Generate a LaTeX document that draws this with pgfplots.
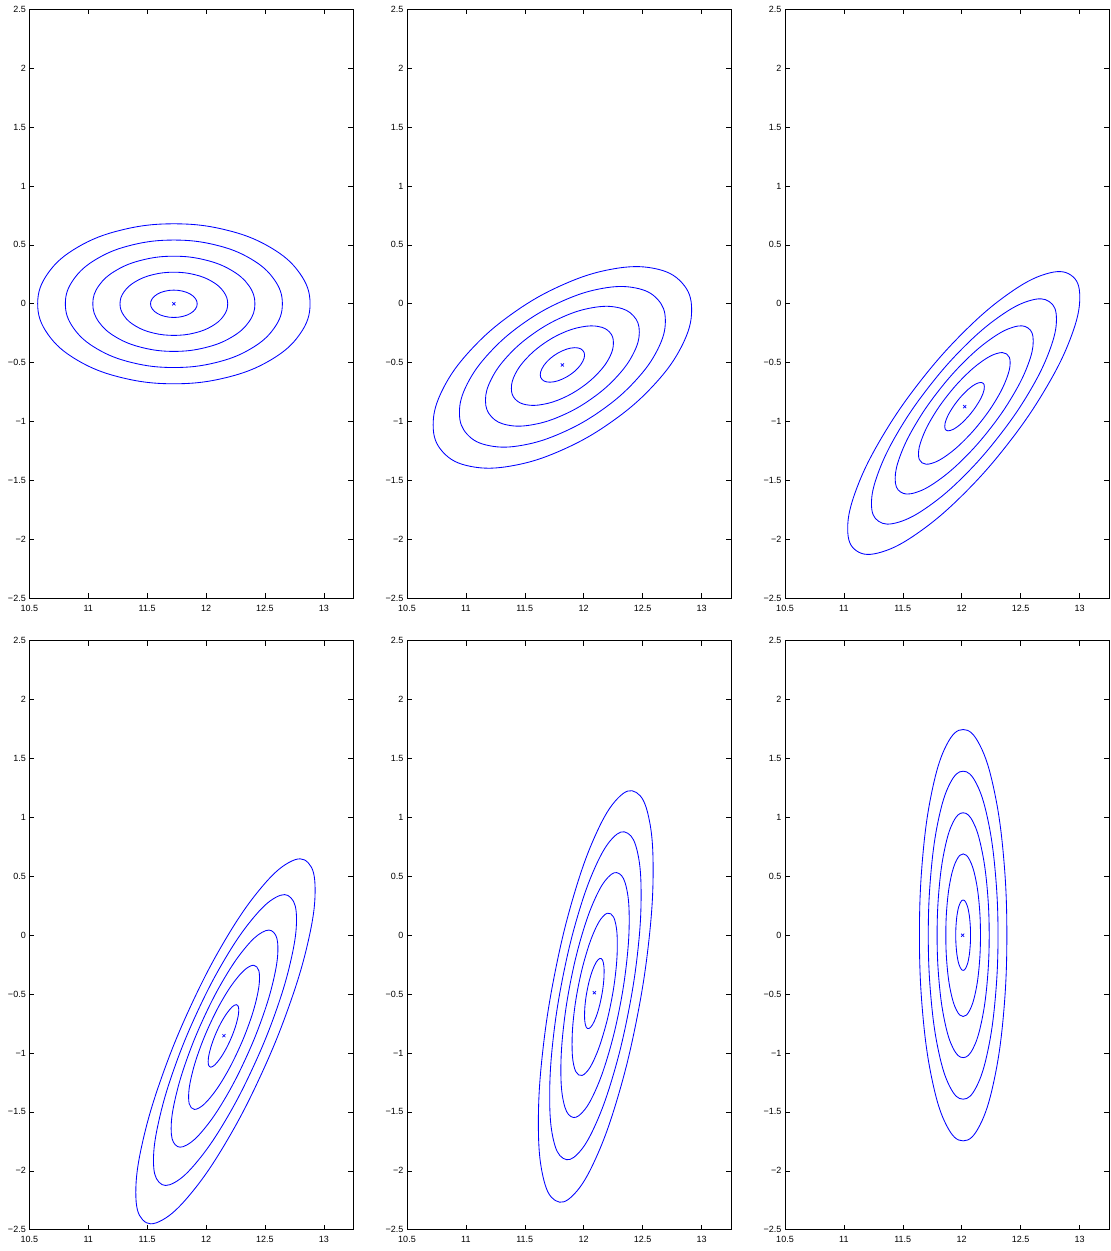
\documentclass[border=0pt]{standalone}
\usepackage{pgfplots}
\pgfplotsset{compat=1.18}
\usepackage{fontspec}
\setmainfont{Liberation Sans}
\definecolor{mblue}{RGB}{0,0,255}
\pgfplotsset{
  panel/.style={
    scale only axis, width=324pt, height=589pt,
    xmin=10.5, xmax=13.25, ymin=-2.5, ymax=2.5,
    xtick={10.5,11,11.5,12,12.5,13},
    xticklabels={10.5,11,11.5,12,12.5,13},
    ytick={-2.5,-2,-1.5,-1,-0.5,0,0.5,1,1.5,2,2.5},
    yticklabels={−2.5,−2,−1.5,−1,−0.5,0,0.5,1,1.5,2,2.5},
    tick align=inside, major tick length=5pt,
    tick style={black, line width=0.6pt},
    axis line style={black, line width=0.9pt},
    ticklabel style={font=\fontsize{9}{10}\selectfont},
    xticklabel style={yshift=-3pt},
    anchor=south west,
  },
  ell/.style={draw=mblue, line width=0.85pt, smooth cycle, tension=0.68, mark=none},
  ctr/.style={draw=mblue, only marks, mark=x, mark size=2.2pt, mark options={draw=mblue, line width=0.7pt}},
}
\begin{document}
\begin{tikzpicture}
\path[use as bounding box] (0,0) rectangle (1111pt,1251pt);
% ---------- Panel 1 ----------
\begin{axis}[panel, at={(29.3pt,652.7pt)}]
\addplot[ell] coordinates {(12.883,0) (12.795,0.260) (12.544,0.480) (12.169,0.627) (11.727,0.679) (11.285,0.627) (10.910,0.480) (10.659,0.260) (10.571,0) (10.659,-0.260) (10.910,-0.480) (11.285,-0.627) (11.727,-0.679) (12.169,-0.627) (12.544,-0.480) (12.795,-0.260)};
\addplot[ell] coordinates {(12.648,0) (12.578,0.207) (12.378,0.383) (12.079,0.500) (11.727,0.541) (11.375,0.500) (11.076,0.383) (10.876,0.207) (10.806,0) (10.876,-0.207) (11.076,-0.383) (11.375,-0.500) (11.727,-0.541) (12.079,-0.500) (12.378,-0.383) (12.578,-0.207)};
\addplot[ell] coordinates {(12.415,0) (12.363,0.155) (12.213,0.286) (11.990,0.373) (11.727,0.404) (11.464,0.373) (11.241,0.286) (11.091,0.155) (11.039,0) (11.091,-0.155) (11.241,-0.286) (11.464,-0.373) (11.727,-0.404) (11.990,-0.373) (12.213,-0.286) (12.363,-0.155)};
\addplot[ell] coordinates {(12.184,0) (12.149,0.103) (12.050,0.190) (11.902,0.248) (11.727,0.268) (11.552,0.248) (11.404,0.190) (11.305,0.103) (11.270,0) (11.305,-0.103) (11.404,-0.190) (11.552,-0.248) (11.727,-0.268) (11.902,-0.248) (12.050,-0.190) (12.149,-0.103)};
\addplot[ell] coordinates {(11.925,0) (11.910,0.044) (11.867,0.082) (11.803,0.107) (11.727,0.116) (11.651,0.107) (11.587,0.082) (11.544,0.044) (11.529,0) (11.544,-0.044) (11.587,-0.082) (11.651,-0.107) (11.727,-0.116) (11.803,-0.107) (11.867,-0.082) (11.910,-0.044)};
\addplot[ctr] coordinates {(11.727,0)};
\end{axis}
% ---------- Panel 2 ----------
\begin{axis}[panel, at={(407pt,652.7pt)}]
\addplot[ell] coordinates {(12.916,-0.052) (12.833,0.179) (12.595,0.301) (12.239,0.294) (11.819,0.160) (11.399,-0.080) (11.043,-0.390) (10.805,-0.723) (10.722,-1.028) (10.805,-1.259) (11.043,-1.381) (11.399,-1.374) (11.819,-1.240) (12.239,-1.000) (12.595,-0.690) (12.833,-0.357)};
\addplot[ell] coordinates {(12.693,-0.146) (12.627,0.038) (12.437,0.135) (12.154,0.130) (11.819,0.023) (11.484,-0.168) (11.201,-0.415) (11.011,-0.681) (10.945,-0.924) (11.011,-1.108) (11.201,-1.205) (11.484,-1.200) (11.819,-1.093) (12.154,-0.902) (12.437,-0.655) (12.627,-0.389)};
\addplot[ell] coordinates {(12.472,-0.240) (12.422,-0.102) (12.281,-0.030) (12.069,-0.034) (11.819,-0.113) (11.569,-0.256) (11.357,-0.441) (11.216,-0.639) (11.166,-0.820) (11.216,-0.958) (11.357,-1.030) (11.569,-1.026) (11.819,-0.947) (12.069,-0.804) (12.281,-0.619) (12.422,-0.421)};
\addplot[ell] coordinates {(12.252,-0.332) (12.220,-0.241) (12.126,-0.193) (11.985,-0.196) (11.819,-0.248) (11.653,-0.343) (11.512,-0.466) (11.418,-0.597) (11.386,-0.718) (11.418,-0.809) (11.512,-0.857) (11.653,-0.854) (11.819,-0.802) (11.985,-0.707) (12.126,-0.584) (12.220,-0.453)};
\addplot[ell] coordinates {(12.007,-0.436) (11.992,-0.396) (11.952,-0.375) (11.891,-0.376) (11.819,-0.399) (11.747,-0.440) (11.686,-0.493) (11.646,-0.550) (11.631,-0.602) (11.646,-0.642) (11.686,-0.663) (11.747,-0.662) (11.819,-0.639) (11.891,-0.598) (11.952,-0.545) (11.992,-0.488)};
\addplot[ctr] coordinates {(11.819,-0.519)};
\end{axis}
% ---------- Panel 3 ----------
\begin{axis}[panel, at={(785pt,652.7pt)}]
\addplot[ell] coordinates {(13.002,0.054) (12.927,0.243) (12.713,0.253) (12.394,0.083) (12.017,-0.240) (11.640,-0.668) (11.321,-1.135) (11.107,-1.571) (11.032,-1.908) (11.107,-2.097) (11.321,-2.107) (11.640,-1.937) (12.017,-1.614) (12.394,-1.186) (12.713,-0.719) (12.927,-0.283)};
\addplot[ell] coordinates {(12.804,-0.132) (12.744,0.018) (12.574,0.026) (12.319,-0.109) (12.019,-0.366) (11.719,-0.708) (11.464,-1.080) (11.294,-1.427) (11.234,-1.696) (11.294,-1.846) (11.464,-1.854) (11.719,-1.719) (12.019,-1.462) (12.319,-1.120) (12.574,-0.748) (12.744,-0.401)};
\addplot[ell] coordinates {(12.607,-0.317) (12.562,-0.205) (12.435,-0.199) (12.245,-0.300) (12.021,-0.492) (11.797,-0.747) (11.607,-1.025) (11.480,-1.284) (11.435,-1.485) (11.480,-1.597) (11.607,-1.603) (11.797,-1.502) (12.021,-1.310) (12.245,-1.055) (12.435,-0.777) (12.562,-0.518)};
\addplot[ell] coordinates {(12.411,-0.501) (12.381,-0.426) (12.297,-0.422) (12.171,-0.489) (12.022,-0.617) (11.873,-0.786) (11.747,-0.970) (11.663,-1.142) (11.633,-1.275) (11.663,-1.350) (11.747,-1.354) (11.873,-1.287) (12.022,-1.159) (12.171,-0.990) (12.297,-0.806) (12.381,-0.634)};
\addplot[ell] coordinates {(12.192,-0.705) (12.180,-0.673) (12.143,-0.671) (12.088,-0.700) (12.024,-0.756) (11.960,-0.829) (11.905,-0.909) (11.868,-0.983) (11.856,-1.041) (11.868,-1.073) (11.905,-1.075) (11.960,-1.046) (12.024,-0.990) (12.088,-0.917) (12.143,-0.837) (12.180,-0.763)};
\addplot[ctr] coordinates {(12.025,-0.873)};
\end{axis}
% ---------- Panel 4 ----------
\begin{axis}[panel, at={(29.3pt,21.3pt)}]
\addplot[ell] coordinates {(12.926,0.381) (12.868,0.614) (12.703,0.617) (12.456,0.388) (12.165,-0.036) (11.874,-0.593) (11.627,-1.196) (11.462,-1.754) (11.404,-2.183) (11.462,-2.416) (11.627,-2.419) (11.874,-2.190) (12.165,-1.766) (12.456,-1.209) (12.703,-0.606) (12.868,-0.048)};
\addplot[ell] coordinates {(12.768,0.132) (12.721,0.317) (12.590,0.320) (12.393,0.137) (12.161,-0.201) (11.929,-0.645) (11.732,-1.125) (11.601,-1.570) (11.554,-1.912) (11.601,-2.097) (11.732,-2.100) (11.929,-1.917) (12.161,-1.579) (12.393,-1.135) (12.590,-0.655) (12.721,-0.210)};
\addplot[ell] coordinates {(12.610,-0.115) (12.575,0.023) (12.477,0.025) (12.330,-0.111) (12.157,-0.363) (11.984,-0.695) (11.837,-1.054) (11.739,-1.386) (11.704,-1.641) (11.739,-1.779) (11.837,-1.781) (11.984,-1.645) (12.157,-1.393) (12.330,-1.061) (12.477,-0.702) (12.575,-0.370)};
\addplot[ell] coordinates {(12.454,-0.361) (12.431,-0.269) (12.366,-0.267) (12.268,-0.358) (12.153,-0.525) (12.038,-0.745) (11.940,-0.984) (11.875,-1.204) (11.852,-1.373) (11.875,-1.465) (11.940,-1.467) (12.038,-1.376) (12.153,-1.209) (12.268,-0.989) (12.366,-0.750) (12.431,-0.530)};
\addplot[ell] coordinates {(12.278,-0.636) (12.268,-0.596) (12.240,-0.595) (12.198,-0.635) (12.148,-0.707) (12.098,-0.802) (12.056,-0.905) (12.028,-1.001) (12.018,-1.074) (12.028,-1.114) (12.056,-1.115) (12.098,-1.075) (12.148,-1.003) (12.198,-0.908) (12.240,-0.805) (12.268,-0.709)};
\addplot[ctr] coordinates {(12.152,-0.853)};
\end{axis}
% ---------- Panel 5 ----------
\begin{axis}[panel, at={(407pt,21.3pt)}]
\addplot[ell] coordinates {(12.589,0.554) (12.552,0.999) (12.446,1.212) (12.288,1.161) (12.102,0.855) (11.916,0.339) (11.758,-0.307) (11.652,-0.986) (11.615,-1.594) (11.652,-2.039) (11.758,-2.252) (11.916,-2.201) (12.102,-1.895) (12.288,-1.379) (12.446,-0.733) (12.552,-0.054)};
\addplot[ell] coordinates {(12.487,0.342) (12.458,0.697) (12.373,0.866) (12.247,0.826) (12.099,0.582) (11.951,0.171) (11.825,-0.344) (11.740,-0.885) (11.711,-1.370) (11.740,-1.725) (11.825,-1.894) (11.951,-1.854) (12.099,-1.610) (12.247,-1.199) (12.373,-0.684) (12.458,-0.143)};
\addplot[ell] coordinates {(12.386,0.131) (12.364,0.396) (12.301,0.523) (12.207,0.492) (12.096,0.310) (11.985,0.003) (11.891,-0.381) (11.828,-0.785) (11.806,-1.147) (11.828,-1.412) (11.891,-1.539) (11.985,-1.508) (12.096,-1.326) (12.207,-1.019) (12.301,-0.635) (12.364,-0.231)};
\addplot[ell] coordinates {(12.285,-0.078) (12.271,0.098) (12.229,0.182) (12.166,0.162) (12.093,0.041) (12.020,-0.163) (11.957,-0.418) (11.915,-0.686) (11.901,-0.926) (11.915,-1.102) (11.957,-1.186) (12.020,-1.166) (12.093,-1.045) (12.166,-0.841) (12.229,-0.586) (12.271,-0.318)};
\addplot[ell] coordinates {(12.173,-0.311) (12.167,-0.235) (12.149,-0.199) (12.122,-0.208) (12.090,-0.260) (12.058,-0.348) (12.031,-0.459) (12.013,-0.575) (12.007,-0.679) (12.013,-0.755) (12.031,-0.791) (12.058,-0.782) (12.090,-0.730) (12.122,-0.642) (12.149,-0.531) (12.167,-0.415)};
\addplot[ctr] coordinates {(12.090,-0.488)};
\end{axis}
% ---------- Panel 6 ----------
\begin{axis}[panel, at={(785pt,21.3pt)}]
\addplot[ell] coordinates {(12.383,0) (12.355,0.668) (12.274,1.235) (12.154,1.613) (12.012,1.746) (11.870,1.613) (11.750,1.235) (11.669,0.668) (11.641,0) (11.669,-0.668) (11.750,-1.235) (11.870,-1.613) (12.012,-1.746) (12.154,-1.613) (12.274,-1.235) (12.355,-0.668)};
\addplot[ell] coordinates {(12.308,0) (12.285,0.533) (12.221,0.984) (12.125,1.286) (12.012,1.392) (11.899,1.286) (11.803,0.984) (11.739,0.533) (11.716,0) (11.739,-0.533) (11.803,-0.984) (11.899,-1.286) (12.012,-1.392) (12.125,-1.286) (12.221,-0.984) (12.285,-0.533)};
\addplot[ell] coordinates {(12.233,0) (12.216,0.398) (12.168,0.735) (12.097,0.960) (12.012,1.039) (11.927,0.960) (11.856,0.735) (11.808,0.398) (11.791,0) (11.808,-0.398) (11.856,-0.735) (11.927,-0.960) (12.012,-1.039) (12.097,-0.960) (12.168,-0.735) (12.216,-0.398)};
\addplot[ell] coordinates {(12.159,0) (12.148,0.264) (12.116,0.488) (12.068,0.637) (12.012,0.690) (11.956,0.637) (11.908,0.488) (11.876,0.264) (11.865,0) (11.876,-0.264) (11.908,-0.488) (11.956,-0.637) (12.012,-0.690) (12.068,-0.637) (12.116,-0.488) (12.148,-0.264)};
\addplot[ell] coordinates {(12.075,0) (12.070,0.114) (12.057,0.211) (12.036,0.276) (12.012,0.299) (11.988,0.276) (11.967,0.211) (11.954,0.114) (11.949,0) (11.954,-0.114) (11.967,-0.211) (11.988,-0.276) (12.012,-0.299) (12.036,-0.276) (12.057,-0.211) (12.070,-0.114)};
\addplot[ctr] coordinates {(12.008,0)};
\end{axis}
\end{tikzpicture}
\end{document}
